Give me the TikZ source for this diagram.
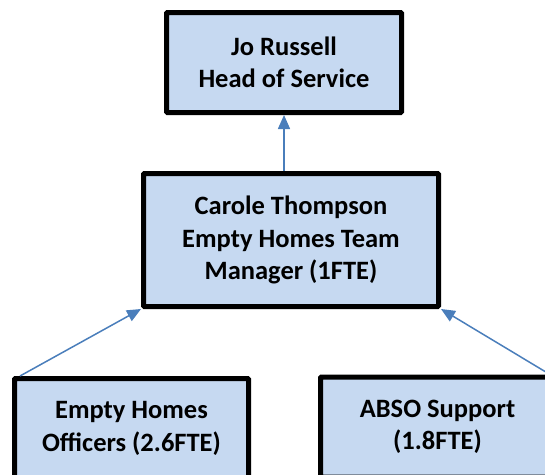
\documentclass[tikz,border=0pt]{standalone}
\usepackage{fontspec}
\setmainfont{Carlito}
\usetikzlibrary{arrows.meta}
\definecolor{boxfill}{HTML}{C6D9F1}
\definecolor{linkblue}{HTML}{4A7EBB}
\begin{document}
\begin{tikzpicture}[x=1pt,y=-1pt,
  orgbox/.style={draw=black, line width=5pt, fill=boxfill, rounded corners=1pt,
    align=center, inner sep=0pt,
    font=\bfseries\fontsize{26.5}{32.5}\selectfont},
  link/.style={draw=linkblue, line width=1.5pt,
    -{Triangle[length=14pt,width=12pt]}}]
  \clip (0,0) rectangle (545,474);
  % boxes
  \node[orgbox, minimum width=235pt, minimum height=100pt] (head) at (284,62.5)
    {Jo Russell\\Head of Service};
  \node[orgbox, minimum width=295pt, minimum height=133pt] (mgr) at (291,240)
    {Carole Thompson\\Empty Homes Team\\Manager (1FTE)};
  \node[orgbox, minimum width=234pt, minimum height=100pt] (officers) at (131.5,428.5)
    {Empty Homes\\Officers (2.6FTE)};
  \node[orgbox, minimum width=234pt, minimum height=100pt] (abso) at (437.5,427)
    {ABSO Support\\(1.8FTE)};
  % reporting lines
  \draw[link] (head.south |- mgr.north) -- (head.south);
  \draw[link] ([xshift=8pt]officers.north west) -- (mgr.south west);
  \draw[link] ([xshift=-7pt]abso.north east) -- (mgr.south east);
\end{tikzpicture}
\end{document}
